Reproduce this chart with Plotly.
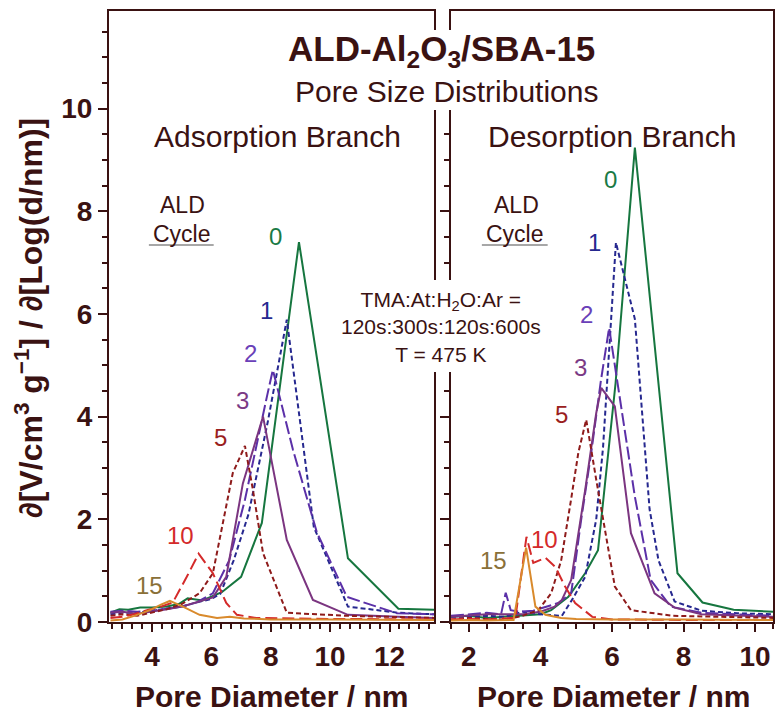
import plotly.graph_objects as go

# ---------------------------------------------------------------
# Pore size distributions of ALD-Al2O3 coated SBA-15
# x: pore diameter (nm), y: dV/dlog(d) (cm^3 g^-1)
# ---------------------------------------------------------------

cycles = ["0", "1", "2", "3", "5", "10", "15"]

# Adsorption branch
ads_x_0 = [2.6, 2.9, 3.2, 3.6, 4.0, 4.5, 4.9, 5.2, 5.7, 6.35, 7.0, 7.7, 8.95, 10.6, 12.3, 13.5]
ads_y_0 = [0.18, 0.25, 0.24, 0.28, 0.28, 0.30, 0.35, 0.46, 0.42, 0.58, 0.88, 1.93, 7.4, 1.24, 0.26, 0.24]

ads_x_1 = [2.6, 3.0, 3.5, 4.0, 4.5, 5.0, 5.5, 6.0, 6.3, 6.75, 7.25, 7.9, 8.54, 9.45, 10.6, 12.3, 13.5]
ads_y_1 = [0.15, 0.18, 0.18, 0.22, 0.25, 0.30, 0.38, 0.45, 0.55, 1.2, 2.1, 3.9, 5.89, 1.85, 0.30, 0.18, 0.15]

ads_x_2 = [2.6, 3.0, 3.5, 4.0, 4.5, 5.0, 5.5, 6.05, 6.6, 7.13, 7.87, 8.07, 8.75, 9.55, 10.56, 12.25, 13.5]
ads_y_2 = [0.2, 0.22, 0.2, 0.22, 0.26, 0.3, 0.38, 0.56, 1.2, 2.38, 4.39, 4.91, 3.35, 1.75, 0.49, 0.17, 0.15]

ads_x_3 = [2.6, 3.0, 3.5, 4.0, 4.5, 5.0, 5.5, 6.05, 6.5, 7.06, 7.74, 8.54, 9.42, 10.6, 12.3, 13.5]
ads_y_3 = [0.18, 0.2, 0.16, 0.2, 0.25, 0.3, 0.38, 0.48, 0.88, 2.7, 4.0, 1.6, 0.43, 0.14, 0.10, 0.08]

ads_x_5 = [2.6, 3.0, 3.5, 4.0, 4.5, 5.0, 5.6, 6.05, 6.72, 7.13, 7.4, 7.74, 8.54, 10.6, 13.5]
ads_y_5 = [0.12, 0.15, 0.12, 0.18, 0.25, 0.35, 0.56, 0.95, 2.9, 3.43, 2.57, 1.34, 0.18, 0.12, 0.08]

ads_x_10 = [2.6, 3.0, 3.4, 3.83, 4.3, 4.7, 5.17, 5.57, 6.05, 6.5, 6.86, 7.5, 10.0, 13.5]
ads_y_10 = [0.08, 0.10, 0.15, 0.23, 0.30, 0.38, 0.88, 1.33, 0.95, 0.37, 0.14, 0.08, 0.06, 0.05]

ads_x_15 = [2.6, 3.0, 3.4, 3.93, 4.3, 4.6, 5.04, 5.6, 6.19, 6.62, 7.1, 8.0, 10.0, 13.5]
ads_y_15 = [0.03, 0.05, 0.12, 0.23, 0.34, 0.41, 0.30, 0.14, 0.08, 0.10, 0.07, 0.05, 0.05, 0.04]

# Desorption branch
des_x_0 = [1.5, 2.0, 2.5, 3.0, 3.5, 4.0, 4.3, 4.78, 5.25, 5.61, 6.1, 6.64, 7.83, 8.53, 9.4, 10.5]
des_y_0 = [0.10, 0.12, 0.08, 0.10, 0.12, 0.15, 0.23, 0.49, 0.95, 1.4, 4.65, 9.24, 0.95, 0.38, 0.24, 0.20]

des_x_1 = [1.5, 2.0, 2.5, 3.0, 3.5, 4.0, 4.6, 4.9, 5.25, 5.56, 5.75, 6.11, 6.64, 7.05, 7.3, 7.75, 8.5, 9.5, 10.5]
des_y_1 = [0.10, 0.10, 0.12, 0.10, 0.20, 0.15, 0.12, 0.45, 0.88, 2.0, 3.4, 7.39, 5.9, 2.2, 1.2, 0.40, 0.22, 0.17, 0.15]

des_x_2 = [1.5, 2.0, 2.5, 2.9, 3.03, 3.17, 3.4, 3.8, 4.2, 4.5, 4.86, 5.14, 5.42, 5.69, 5.92, 6.17, 6.64, 7.08, 7.64, 8.5, 10.5]
des_y_2 = [0.12, 0.15, 0.18, 0.15, 0.57, 0.23, 0.20, 0.22, 0.30, 0.37, 0.56, 2.0, 3.3, 4.7, 5.73, 4.58, 2.44, 0.82, 0.30, 0.18, 0.12]

des_x_3 = [1.5, 2.0, 2.5, 3.0, 3.5, 4.0, 4.4, 4.6, 4.86, 5.25, 5.56, 5.7, 6.08, 6.53, 7.19, 7.75, 8.5, 10.5]
des_y_3 = [0.10, 0.12, 0.15, 0.15, 0.15, 0.20, 0.30, 0.43, 0.82, 2.57, 4.07, 4.56, 4.2, 1.73, 0.56, 0.28, 0.15, 0.10]

des_x_5 = [1.5, 2.0, 2.5, 3.0, 3.5, 3.94, 4.3, 4.58, 4.86, 5.06, 5.28, 5.56, 6.08, 6.53, 7.7, 10.5]
des_y_5 = [0.05, 0.08, 0.06, 0.05, 0.12, 0.23, 0.56, 1.2, 2.4, 3.3, 3.94, 2.77, 0.69, 0.23, 0.12, 0.08]

des_x_10 = [1.5, 2.0, 2.5, 3.0, 3.3, 3.61, 3.8, 4.14, 4.42, 4.69, 4.97, 5.45, 6.0, 8.0, 10.5]
des_y_10 = [0.05, 0.06, 0.05, 0.06, 0.08, 1.66, 1.15, 1.25, 1.07, 0.69, 0.37, 0.10, 0.05, 0.04, 0.04]

des_x_15 = [1.5, 2.0, 2.5, 3.0, 3.25, 3.6, 3.86, 4.14, 4.58, 5.0, 6.0, 8.0, 10.5]
des_y_15 = [0.03, 0.04, 0.03, 0.04, 0.04, 1.45, 0.30, 0.14, 0.08, 0.06, 0.05, 0.05, 0.04]

ads_x = [ads_x_0, ads_x_1, ads_x_2, ads_x_3, ads_x_5, ads_x_10, ads_x_15]
ads_y = [ads_y_0, ads_y_1, ads_y_2, ads_y_3, ads_y_5, ads_y_10, ads_y_15]
des_x = [des_x_0, des_x_1, des_x_2, des_x_3, des_x_5, des_x_10, des_x_15]
des_y = [des_y_0, des_y_1, des_y_2, des_y_3, des_y_5, des_y_10, des_y_15]

# ---------------------------------------------------------------
# Styles
# ---------------------------------------------------------------
FONT = "Liberation Sans, Arial, Helvetica, sans-serif"
INK = "#3a1212"

line_colors = ["#16763f", "#26288f", "#5b30a8", "#7b3580", "#8e1b1b", "#d42a2a", "#d98a2c"]
label_colors = ["#1a7a45", "#26288f", "#6a40b8", "#7b3a85", "#9a2020", "#d42a2a", "#8a7038"]
line_dash = ["solid", "5px,3px", "13px,4px", "solid", "5px,3px", "12px,5px", "solid"]

# label anchor points (data units) for each panel
ads_label_pos = [(8.17, 7.5), (7.84, 6.06), (7.33, 5.22), (7.06, 4.31), (6.32, 3.59), (4.97, 1.68), (3.93, 0.72)]
des_label_pos = [(5.95, 8.62), (5.5, 7.39), (5.3, 5.98), (5.12, 4.95), (4.6, 4.05), (4.11, 1.6), (2.7, 1.2)]

fig = go.Figure()

for i, c in enumerate(cycles):
    fig.add_trace(go.Scatter(
        x=ads_x[i], y=ads_y[i], mode="lines", name=f"{c} (ads)",
        line=dict(color=line_colors[i], width=2, dash=line_dash[i]),
        xaxis="x", yaxis="y", showlegend=False))
    fig.add_trace(go.Scatter(
        x=des_x[i], y=des_y[i], mode="lines", name=f"{c} (des)",
        line=dict(color=line_colors[i], width=2, dash=line_dash[i]),
        xaxis="x2", yaxis="y2", showlegend=False))


def note(x, y, text, size, color=INK, bold=False, xref="paper", yref="paper", **kw):
    font = dict(family=FONT, size=size, color=color)
    if bold:
        font["weight"] = "bold"
    return dict(x=x, y=y, xref=xref, yref=yref, text=text, showarrow=False,
                xanchor="center", yanchor="middle", font=font, **kw)


annotations = []
for i, c in enumerate(cycles):
    for (px, py), xr, yr in [(ads_label_pos[i], "x", "y"), (des_label_pos[i], "x2", "y2")]:
        annotations.append(note(px, py, c, 24, label_colors[i], xref=xr, yref=yr))

# "ALD Cycle" headers
for xv, xr, yr in [(5.04, "x", "y"), (3.33, "x2", "y2")]:
    annotations.append(note(xv, 8.12, "ALD", 23, xref=xr, yref=yr))
    annotations.append(note(xv - 0.03, 7.56, "Cycle", 23, xref=xr, yref=yr))

# Titles
annotations += [
    note(0.5015, 0.935, "ALD-Al<sub>2</sub>O<sub>3</sub>/SBA-15", 35, bold=True),
    note(0.509, 0.868, "Pore Size Distributions", 30),
    note(0.2538, 0.795, "Adsorption Branch", 30),
    note(0.758, 0.795, "Desorption Branch", 30),
    note(0.5, 0.483, "TMA:At:H<sub>2</sub>O:Ar =<br>120s:300s:120s:600s<br>T = 475 K", 21),
    note(0.2447, -0.1227, "Pore Diameter / nm", 30, bold=True),
    note(0.76, -0.1227, "Pore Diameter / nm", 30, bold=True),
    note(-0.1216, 0.498, "∂[V/cm<sup>3</sup> g<sup>−1</sup>] / ∂[Log(d/nm)]", 32, bold=True,
         textangle=-90),
]

# Masks where the header text interrupts the inner frame lines, and the "Cycle" underlines
W, H = 776, 715
ML, MR, MT, MB = 109, 1, 11, 93
PW, PH = W - ML - MR, H - MT - MB


def px2paper_x(p):
    return (p - ML) / PW


def px2paper_y(p):
    return (H - MB - p) / PH


shapes = [
    dict(type="rect", xref="paper", yref="paper", layer="above",
         x0=px2paper_x(428), x1=px2paper_x(459), y0=px2paper_y(110), y1=px2paper_y(30),
         fillcolor="white", line=dict(width=0)),
    dict(type="rect", xref="paper", yref="paper", layer="above",
         x0=px2paper_x(428), x1=px2paper_x(459), y0=px2paper_y(372), y1=px2paper_y(280),
         fillcolor="white", line=dict(width=0)),
    dict(type="line", xref="paper", yref="paper", layer="above",
         x0=px2paper_x(149), x1=px2paper_x(214), y0=px2paper_y(245), y1=px2paper_y(245),
         line=dict(color="#8a8a8a", width=1.5)),
    dict(type="line", xref="paper", yref="paper", layer="above",
         x0=px2paper_x(483), x1=px2paper_x(549), y0=px2paper_y(245), y1=px2paper_y(245),
         line=dict(color="#8a8a8a", width=1.5)),
]

axis_common = dict(showline=True, linecolor=INK, linewidth=2, mirror=True,
                   showgrid=False, zeroline=False, ticks="outside",
                   tickcolor=INK, tickwidth=2,
                   tickfont=dict(family=FONT, size=28, color=INK, weight="bold"))

fig.update_layout(
    width=W, height=H,
    margin=dict(l=ML, r=MR, t=MT, b=MB, pad=0),
    paper_bgcolor="white", plot_bgcolor="white",
    showlegend=False,
    xaxis=dict(domain=[0, px2paper_x(435)], range=[2.55, 13.5], dtick=2, ticklen=8,
               minor=dict(dtick=1 / 3, ticklen=5, tickcolor=INK, tickwidth=1.5, ticks="outside"),
               anchor="y", **axis_common),
    xaxis2=dict(domain=[px2paper_x(452), 1], range=[1.5, 10.5], dtick=2, ticklen=8,
                minor=dict(dtick=0.5, ticklen=5, tickcolor=INK, tickwidth=1.5, ticks="outside"),
                anchor="y2", **axis_common),
    yaxis=dict(domain=[0, 1], range=[0, 11.9], dtick=2, ticklen=9,
               minor=dict(dtick=0.5, ticklen=5, tickcolor=INK, tickwidth=1.5, ticks="outside"),
               anchor="x", **axis_common),
    yaxis2=dict(domain=[0, 1], range=[0, 11.9], dtick=2, ticklen=9, showticklabels=False,
                minor=dict(dtick=0.5, ticklen=5, tickcolor=INK, tickwidth=1.5, ticks="outside"),
                anchor="x2", **axis_common),
    annotations=annotations,
    shapes=shapes,
)

fig.write_html("out.html")
